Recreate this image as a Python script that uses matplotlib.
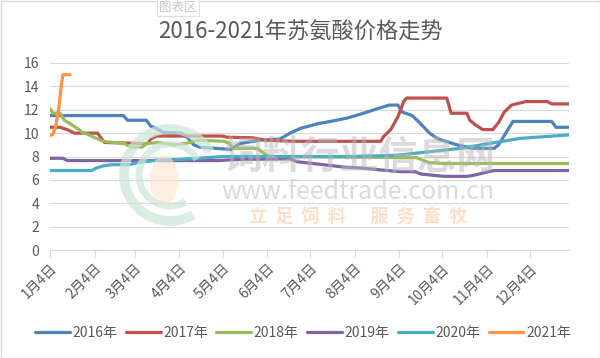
import matplotlib.pyplot as plt
import pandas as pd
from matplotlib.patches import Arc, Ellipse, Rectangle

plt.rcParams['font.family'] = ['Noto Sans CJK SC', 'DejaVu Sans']

# 数据 (月-日, 价格 元/kg)
d2016 = ['01-04', '02-24', '02-27', '03-12', '03-15', '03-19', '03-24', '04-05', '04-09', '04-14',
         '04-18', '05-10', '05-16', '05-30', '06-13', '06-20', '06-27', '07-09', '07-18', '07-30',
         '08-10', '08-20', '08-28', '09-03', '09-06', '09-13', '09-18', '09-25', '10-01', '10-14',
         '10-25', '11-09', '11-12', '11-17', '11-22', '12-19', '12-22', '12-31']
v2016 = [11.5, 11.5, 11.1, 11.1, 10.6, 10.4, 10.05, 10.0, 9.7, 9.0,
         8.8, 8.6, 9.1, 9.4, 9.5, 10.0, 10.4, 10.8, 11.0, 11.3,
         11.7, 12.1, 12.4, 12.4, 11.8, 11.5, 10.9, 10.0, 9.5, 9.0,
         8.7, 8.7, 9.0, 10.0, 11.0, 11.0, 10.5, 10.5]

d2017 = ['01-04', '01-11', '01-16', '01-21', '02-06', '02-09', '02-11', '03-13', '03-15', '03-19',
         '05-04', '05-07', '05-25', '06-03', '06-22', '08-22', '08-24', '08-29', '09-03', '09-07',
         '09-09', '10-07', '10-10', '10-21', '10-23', '10-27', '11-01', '11-08', '11-12', '11-16',
         '11-21', '12-01', '12-16', '12-19', '12-31']
v2017 = [10.5, 10.5, 10.3, 10.0, 10.0, 9.5, 9.2, 9.1, 9.5, 9.75,
         9.75, 9.65, 9.6, 9.4, 9.3, 9.3, 9.7, 10.3, 11.4, 12.7,
         13.0, 13.0, 11.7, 11.7, 11.1, 10.7, 10.3, 10.3, 10.9, 11.8,
         12.4, 12.7, 12.7, 12.5, 12.5]

d2018 = ['01-04', '01-06', '01-11', '01-14', '01-18', '01-23', '01-26', '02-01', '02-06', '02-10',
         '02-25', '03-01', '03-09', '03-12', '03-21', '03-31', '04-08', '04-17', '05-05', '05-09',
         '05-11', '05-28', '06-05', '09-16', '09-24', '10-05', '12-31']
v2018 = [12.1, 11.7, 11.7, 11.1, 10.8, 10.4, 10.1, 9.8, 9.5, 9.3,
         9.1, 8.8, 8.8, 9.1, 9.2, 9.0, 9.1, 9.4, 9.3, 9.1,
         8.7, 8.7, 8.0, 7.9, 7.5, 7.4, 7.4]

d2019 = ['01-04', '01-13', '01-16', '05-01', '05-15', '06-20', '06-25', '07-13', '07-27', '08-10',
         '08-22', '09-05', '09-15', '09-19', '10-05', '10-21', '10-26', '11-05', '11-09', '12-31']
v2019 = [7.85, 7.85, 7.65, 7.65, 7.75, 7.8, 7.55, 7.3, 7.1, 7.0,
         6.85, 6.7, 6.7, 6.5, 6.3, 6.3, 6.4, 6.7, 6.8, 6.8]

d2020 = ['01-04', '02-02', '02-05', '02-10', '02-16', '02-28', '03-07', '03-19', '04-05', '04-17',
         '05-05', '08-01', '09-02', '09-24', '10-17', '11-05', '11-27', '12-14', '12-31']
v2020 = [6.8, 6.8, 7.0, 7.2, 7.3, 7.3, 7.5, 7.7, 7.75, 7.85,
         8.0, 8.0, 8.1, 8.4, 8.7, 9.1, 9.55, 9.7, 9.85]

d2021 = ['01-04', '01-06', '01-08', '01-10', '01-12', '01-13', '01-18']
v2021 = [9.8, 9.9, 10.6, 12.0, 14.2, 15.0, 15.0]

tick_days = ['01-04', '02-04', '03-04', '04-04', '05-04', '06-04',
             '07-04', '08-04', '09-04', '10-04', '11-04', '12-04']
tick_labels = ['1月4日', '2月4日', '3月4日', '4月4日', '5月4日', '6月4日',
               '7月4日', '8月4日', '9月4日', '10月4日', '11月4日', '12月4日']


def to_dates(md):
    return pd.to_datetime(['2021-' + s for s in md])


series = [
    ('2016年', d2016, v2016, '#4F81BD'),
    ('2017年', d2017, v2017, '#C0504D'),
    ('2018年', d2018, v2018, '#9BBB59'),
    ('2019年', d2019, v2019, '#8064A2'),
    ('2020年', d2020, v2020, '#4BACC6'),
    ('2021年', d2021, v2021, '#F79646'),
]

fig = plt.figure(figsize=(6, 3.58), dpi=100)
ax = fig.add_axes([50 / 600, 108 / 358, 519 / 600, 187 / 358])

for name, d, v, c in series:
    ax.plot(to_dates(d), v, color=c, lw=2.3, label=name,
            solid_joinstyle='round', solid_capstyle='round')

ax.set_ylim(0, 16)
ax.set_yticks(range(0, 17, 2))
ax.set_xlim(pd.Timestamp('2021-01-04'), pd.Timestamp('2021-12-31'))
ax.set_xticks(to_dates(tick_days))
ax.set_xticklabels(tick_labels, rotation=45, ha='right', rotation_mode='anchor')
ax.grid(axis='y', color='#d9d9d9', lw=0.8)
ax.set_axisbelow(True)
for s in ['top', 'right', 'left']:
    ax.spines[s].set_visible(False)
ax.spines['bottom'].set_color('#d9d9d9')
ax.tick_params(axis='y', length=0, pad=8, labelcolor='#595959', labelsize=10)
ax.tick_params(axis='x', length=5, color='#d9d9d9', pad=3, labelcolor='#595959', labelsize=10)

fig.text(0.5, 1 - 32 / 358, '2016-2021年苏氨酸价格走势', ha='center', va='center',
         fontsize=16, color='#595959')

fig.legend(loc='center', bbox_to_anchor=(0.505, 1 - 333 / 358), ncol=6, frameon=False,
           fontsize=10, handlelength=2.5, handletextpad=0.2, columnspacing=0.6,
           labelcolor='#595959')

# 水印和边框 (像素坐标)
ov = fig.add_axes([0, 0, 1, 1])
ov.set_xlim(0, 600)
ov.set_ylim(358, 0)
ov.axis('off')
ov.set_zorder(5)
ov.add_patch(Arc((170, 175), 92, 92, theta1=60, theta2=330, color='#c9e6d8', lw=7, alpha=0.7))
ov.add_patch(Arc((170, 175), 62, 62, theta1=60, theta2=330, color='#c9e6d8', lw=5, alpha=0.7))
ov.add_patch(Ellipse((164, 180), 28, 50, color='#fde3cb', alpha=0.6, lw=0))
ov.text(360, 157, '饲料行业信息网', ha='center', va='center', fontsize=28,
        fontweight='bold', color='#b8b8b8', alpha=0.5)
ov.text(358, 192, 'www.feedtrade.com.cn', ha='center', va='center', fontsize=18,
        color='#cccccc', alpha=0.7)
ov.text(358, 216, '立  足  饲  料      服  务  畜  牧', ha='center', va='center', fontsize=13,
        fontweight='bold', style='italic', color='#f9c89a', alpha=0.55)
ov.text(178, 7, '图表区', ha='center', va='center', fontsize=9, color='#c8c8c8',
        bbox=dict(facecolor='white', edgecolor='#e0e0e0', lw=0.8, boxstyle='square,pad=0.2'))
ov.add_patch(Rectangle((0.5, 0.5), 599, 357, fill=False, edgecolor='#d9d9d9', lw=1))

fig.savefig('out.png', dpi=100)
